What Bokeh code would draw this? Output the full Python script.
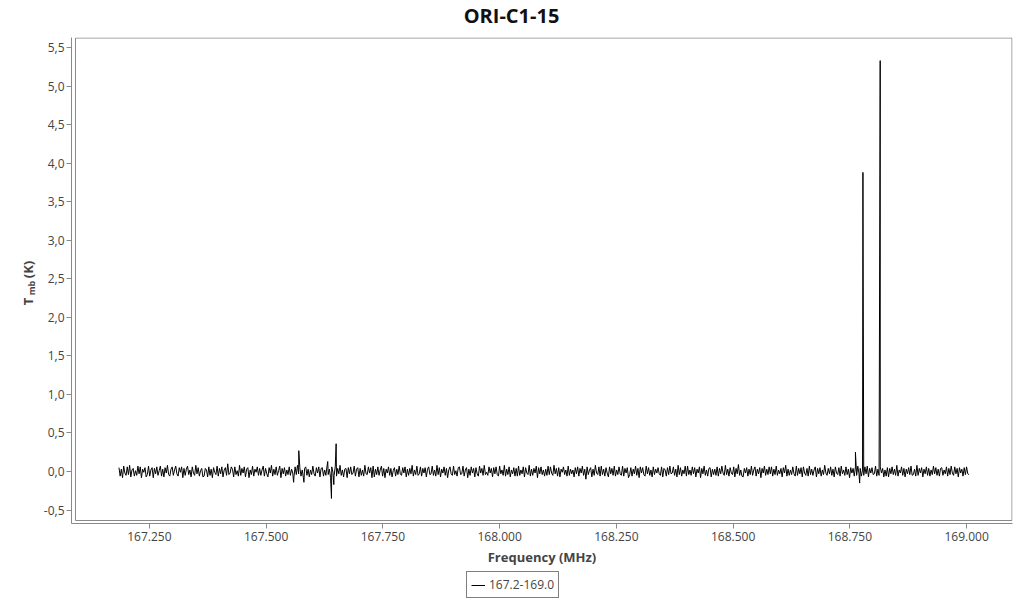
import numpy as np
from bokeh.plotting import figure
from bokeh.layouts import column, row
from bokeh.models import (FixedTicker, CustomJSTickFormatter, PrintfTickFormatter, Label,
                          BoxAnnotation, Legend, LegendItem, Range1d, ColumnDataSource)
from bokeh.embed import file_html
from bokeh.resources import INLINE

# ---------------- data ----------------
title_text = "ORI-C1-15"
series_name = "167.2-169.0"
x_label = "Frequency (MHz)"

freq_start = 167.185   # MHz, first channel
freq_stop = 169.005    # MHz, last channel

noise_cK = [
    5, -6, 3, -8, 7, -2, -5, 6, -4, 8, -7, 2, 4, -6, 1, -5, 7, -3, 6, -8, 3, -1, 5, -7,
    -4, 7, -6, 2, 5, -8, 4, -3, 6, -5, 1, 7, -6, 3, -7, 5, -2, 8, -4, -6, 3, 6, -5, 2,
    7, -3, -6, 5, -1, 6, -8, 4, -5, 3, 7, -4, 2, -7, 6, -2, -5, 8, -3, 5, -6, 1, 4, -7,
    -6, 4, 2, -7, 6, -5, 3, -8, 5, -1, -4, 7, -6, 4, -3, 6, -7, 2, 5, -5, 10, -4, -2, 6,
    3, -7, 6, -4, 1, -6, 8, -5, 4, -2, 6, -7, 3, 5, -8, 2, -4, 7, -6, 3, -1, 6, -5, 4,
    -5, 2, 7, -6, 4, -3, -7, 5, -2, 8, -6, 3, -4, 6, -5, 1, 7, -8, 4, -3, 5, -6, 2, -4,
    6, -5, 3, -2, -7, 6, -4, 8, -3, 5, -6, 2, -8, 4, 6, -5, 3, -7, 2, -4, 7, -3, -6, 5,
    -2, 6, -7, 4, 5, -6, 2, -5, 7, -4, 3, -8, 6, -1, -5, 7, -6, 4, -3, 8, -5, 2, -7, 3,
    4, -8, 5, -3, 6, -4, -2, 7, -6, 3, 5, -7, 4, -5, 2, -6, 8, -3, -4, 6, -2, 5, -8, 7,
    -7, 3, -4, 6, -5, 2, 7, -6, 4, -8, 3, -2, 6, -5, 4, -7, 1, 5, -6, 3, -4, 7, -3, -5,
    5, -2, 6, -7, 3, -5, 4, -3, 8, -6, 2, -4, 7, -5, -3, 6, -6, 4, -2, 5, -7, 3, 6, -4,
    -3, 7, -5, 2, -6, 8, -4, 5, -7, 3, -2, 6, -5, 4, -8, 2, 6, -3, -5, 7, -4, 1, -6, 5,
    6, -4, -3, 7, -6, 2, 5, -8, 3, -5, 6, -2, 4, -7, 5, -3, -6, 7, -2, 4, -5, 8, -4, -1,
    -5, 6, -2, 4, -7, 5, -3, 6, -4, -6, 7, -3, 2, -5, 8, -6, 3, -4, 6, -7, 2, -3, 5, -6,
    4, -6, 7, -5, 2, -3, 6, -7, 5, -2, -4, 8, -6, 3, -5, 4, -2, 7, -8, 5, -3, 6, -4, 2,
    -6, 3, -5, 7, -4, 6, -2, -5, 8, -3, 4, -6, 5, -7, 3, -1, 6, -4, 2, -6, 7, -5, 3, -3,
    2, -7, 5, -3, 6, -6, 4, -2, 7, -5, 3, -10, 6, -4, 2, 5, -7, 3, -5, 8, -2, -4, 6, -6,
    7, -4, 3, -6, 5, -2, -7, 6, -3, 4, -5, 7, -6, 2, -4, 6, -3, -5, 7, -6, 4, -2, 5, -8,
    -4, 5, -6, 3, -3, 7, -5, 4, -8, 6, -2, 5, -4, -6, 7, -3, 5, -5, 2, -7, 6, -4, 3, -2,
    5, -3, -5, 6, -7, 4, 2, -6, 5, -4, 7, -3, -2, 6, -5, 3, -7, 8, -4, 5, -6, 2, -3, 7,
    -6, 7, -4, 2, -5, 6, -3, 5, -7, 3, -2, 6, -8, 4, -3, 7, -5, 2, -6, 4, 5, -7, 3, -4,
    3, -5, 6, -6, 4, -3, 7, -2, -5, 8, -4, 3, -6, 5, -2, -4, 6, -7, 4, -3, 9, -5, 2, -6,
    -7, 4, -2, 5, -6, 3, -4, 7, -5, 2, 6, -6, 3, -3, 5, -8, 4, -2, 7, -5, 3, -4, 6, -3,
    6, -6, 3, -4, 7, -5, 2, -3, 4, -7, 5, -2, 8, -6, 3, -5, 2, -4, 6, -3, -6, 7, -5, 4,
    -3, 5, -7, 6, -2, -5, 4, -6, 7, -4, 3, -5, 2, 6, -7, 4, -3, 5, -6, 2, -4, 8, -2, -5,
    4, -3, 6, -5, 3, -7, 6, -2, -4, 5, -6, 7, -3, 2, -5, 6, -4, 3, -8, 5, -2, 4, -6, 6,
    -5, 7, -3, 4, -6, 2, -5, 6, -3, 7, -7, 4, -2, 5, -4, -3, 7, -6, 3, -5, 6, -2, 4, -7,
    2, -6, 5, -7, 4, -3, 6, -4, 3, -5, 8, -6, 2, -2, 6, -5, 4, -7, 3, -3, 5, -4, 7, -5,
    -4, 3, -6, 8, -5, 4, -2, 5, -7, 3, -3, 6, -5, 4, -6, 2, -4, 7, -3, 5, -5, 3, -6, 4,
    5, -5, 2, -3, 6, -6, 4, -4, 7, -2, -5, 6, -3, 4, -7, 5, -2, 3, -6, 5, -4, 6, -3, -4,
]

# spectral lines / spikes (MHz, K)
peak_freq = [167.559, 167.570, 167.581, 167.632, 167.640, 167.645, 167.650,
             168.762, 168.771, 168.778, 168.815]
peak_tmb = [-0.14, 0.27, -0.14, 0.13, -0.35, -0.17, 0.36,
            0.25, -0.15, 3.88, 5.33]

x_ticks = [167.25, 167.5, 167.75, 168.0, 168.25, 168.5, 168.75, 169.0]
y_ticks = [-0.5, 0.0, 0.5, 1.0, 1.5, 2.0, 2.5, 3.0, 3.5, 4.0, 4.5, 5.0, 5.5]

# ---------------- build series ----------------
noise = np.array(noise_cK, dtype=float) / 100.0
f_noise = np.linspace(freq_start, freq_stop, len(noise))
f_all = np.concatenate([f_noise, np.array(peak_freq)])
t_all = np.concatenate([noise, np.array(peak_tmb)])
order = np.argsort(f_all, kind="stable")
src = ColumnDataSource(dict(f=f_all[order], t=t_all[order]))

FONT = "Open Sans"
TXT = "#444444"
AX = "#8a8a8a"

# layout geometry (pixels)
W = 1024
TITLE_H = 35
MAIN_H = 535
LEG_H = 30
YLAB_W = 40
MAIN_W = W - YLAB_W
FRAME_W, FRAME_H = 943, 486

x0 = 167.25 - 78 / 468.0
x1 = x0 + FRAME_W / 468.0
y0 = -52 / 77.09
y1 = 5.5 + 10 / 77.09


def blank(width, height):
    f = figure(width=width, height=height, output_backend="svg", toolbar_location=None,
               x_axis_type=None, y_axis_type=None, x_range=Range1d(0, 1), y_range=Range1d(0, 1),
               min_border=0, min_border_left=0, min_border_right=0,
               min_border_top=0, min_border_bottom=0)
    f.outline_line_color = None
    f.background_fill_color = "white"
    f.border_fill_color = "white"
    return f


# ---- title ----
title_fig = blank(W, TITLE_H)
title_fig.add_layout(Label(x=511, y=20, x_units="screen", y_units="screen", text=title_text,
                           text_font=FONT, text_font_size="20px", text_font_style="bold",
                           text_color="#111111", text_align="center", text_baseline="middle"))

# ---- y label column: T_mb (K), read bottom-to-top ----
# (its frame is aligned with the main plot's frame, whose bottom is at page y = 523)
ylab_fig = blank(YLAB_W, MAIN_H)
ylab_kw = dict(x_units="screen", y_units="screen", angle=np.pi / 2, text_font=FONT,
               text_font_style="bold", text_color=TXT, text_align="center",
               text_baseline="middle")
ylab_fig.add_layout(Label(x=27, y=222, text="T", text_font_size="13px", **ylab_kw))
ylab_fig.add_layout(Label(x=30.5, y=235.5, text="mb", text_font_size="9px", **ylab_kw))
ylab_fig.add_layout(Label(x=27, y=254, text="(K)", text_font_size="13px", **ylab_kw))

# ---- main plot ----
p = figure(width=MAIN_W, height=MAIN_H, output_backend="svg", toolbar_location=None,
           x_range=Range1d(x0, x1), y_range=Range1d(y0, y1),
           min_border_left=69 - YLAB_W, min_border_right=12, min_border_top=2,
           min_border_bottom=MAIN_H - 2 - FRAME_H)
p.outline_line_color = None
p.xgrid.visible = False
p.ygrid.visible = False
p.background_fill_color = "white"
p.border_fill_color = "white"

r = p.line("f", "t", source=src, line_color="black", line_width=1)

px_x = FRAME_W / (x1 - x0)
px_y = FRAME_H / (y1 - y0)
p.add_layout(BoxAnnotation(left=x0 + 4 / px_x, right=x1 - 0.5 / px_x,
                           bottom=y0 + 3 / px_y, top=y1 - 0.5 / px_y,
                           fill_alpha=0, line_color=AX, line_alpha=1, line_width=1))

for ax in (p.xaxis[0], p.yaxis[0]):
    ax.axis_line_color = AX
    ax.major_tick_line_color = AX
    ax.minor_tick_line_color = None
    ax.major_tick_out = 5
    ax.major_tick_in = 0
    ax.major_label_text_font = FONT
    ax.major_label_text_font_size = "12px"
    ax.major_label_text_color = TXT

p.xaxis[0].ticker = FixedTicker(ticks=x_ticks)
p.xaxis[0].formatter = PrintfTickFormatter(format="%.3f")
p.xaxis[0].major_label_standoff = 3
p.xaxis[0].axis_label = x_label
p.xaxis[0].axis_label_text_font = FONT
p.xaxis[0].axis_label_text_font_size = "13px"
p.xaxis[0].axis_label_text_font_style = "bold"
p.xaxis[0].axis_label_text_color = TXT
p.xaxis[0].axis_label_standoff = 4

p.yaxis[0].ticker = FixedTicker(ticks=y_ticks)
p.yaxis[0].formatter = CustomJSTickFormatter(code="return tick.toFixed(1).replace('.', ',');")
p.yaxis[0].major_label_standoff = 2

# ---- legend strip (its sample line lies outside the strip's visible range) ----
leg_fig = blank(W, LEG_H)
leg_src = ColumnDataSource(dict(x=[2, 3], y=[2, 2]))
lr = leg_fig.line("x", "y", source=leg_src, line_color="black", line_width=1)
legend = Legend(items=[LegendItem(label=series_name, renderers=[lr])],
                location=(466, 2), orientation="horizontal",
                border_line_color="black", border_line_width=1,
                label_text_font=FONT, label_text_font_size="12px", label_text_color=TXT,
                glyph_width=14, glyph_height=12, label_standoff=4, padding=4, margin=0,
                spacing=0, background_fill_color="white", background_fill_alpha=1)
leg_fig.add_layout(legend)

layout = column(title_fig, row(ylab_fig, p), leg_fig)
open("out.html", "w").write(file_html(layout, INLINE))
